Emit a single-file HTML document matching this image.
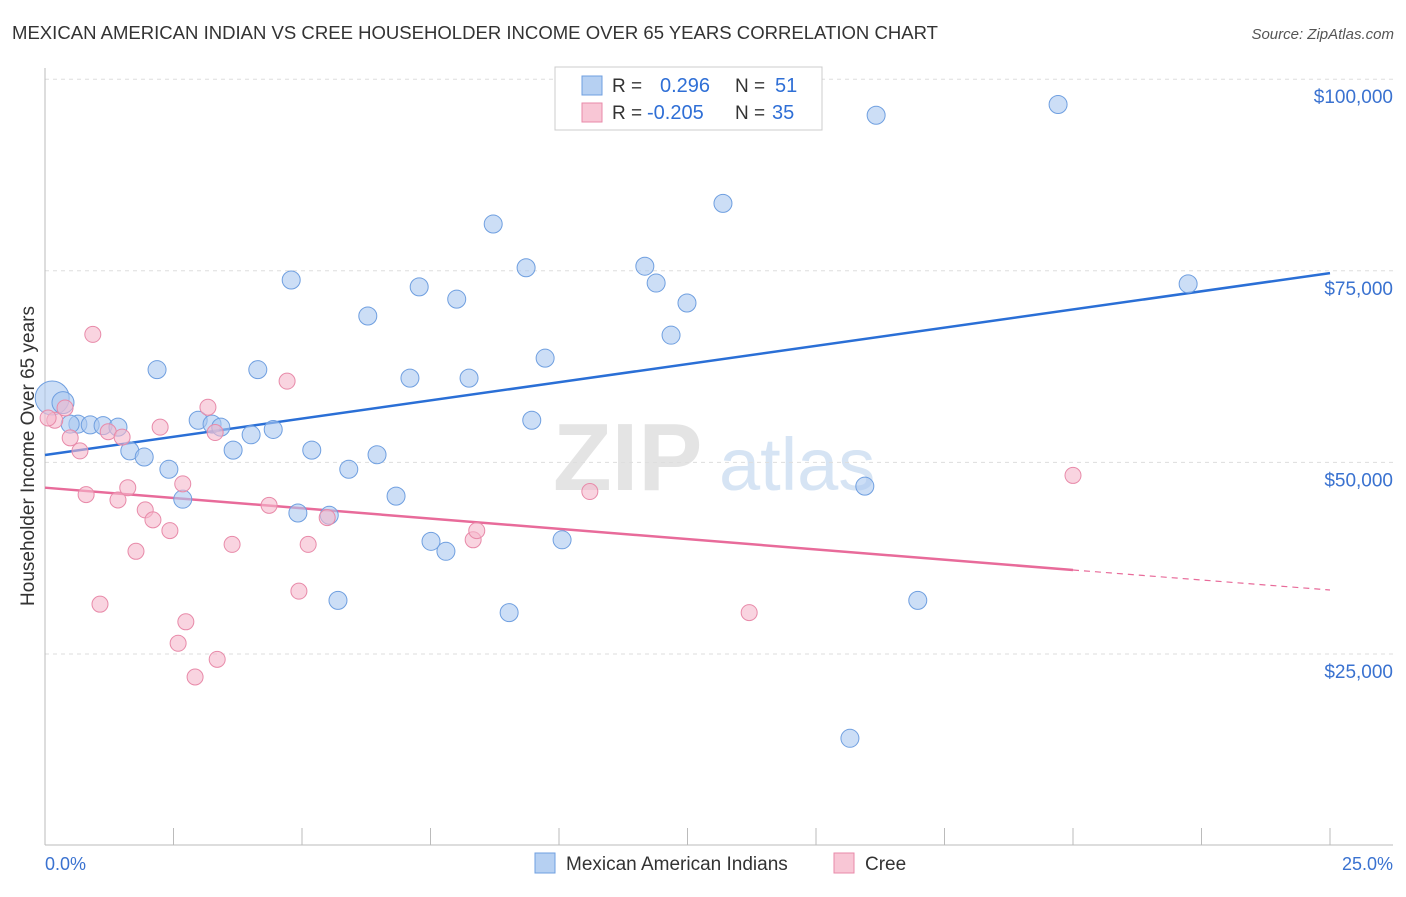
<!DOCTYPE html>
<html><head><meta charset="utf-8"><style>
body{margin:0;background:#fff;font-family:"Liberation Sans",sans-serif;}
svg text{font-family:"Liberation Sans",sans-serif;}
</style></head><body>
<svg id="chart" width="1406" height="892" xmlns="http://www.w3.org/2000/svg">
<text x="12" y="39" font-size="18" fill="#333" textLength="926" lengthAdjust="spacingAndGlyphs">MEXICAN AMERICAN INDIAN VS CREE HOUSEHOLDER INCOME OVER 65 YEARS CORRELATION CHART</text>
<text x="1394" y="39" font-size="15" fill="#555" font-style="italic" text-anchor="end">Source: ZipAtlas.com</text>
<g>
<text x="553" y="490" font-size="96" fill="#e4e4e4" font-family="Liberation Serif" font-weight="bold">ZIP</text>
<text x="719" y="490" font-size="74" fill="#d6e4f4">atlas</text>
</g>
<g id="grid"></g>
<g id="axes"></g>
<g id="lines"></g>
<g id="points"></g>
<text transform="translate(34,456) rotate(-90)" font-size="19" fill="#333" text-anchor="middle">Householder Income Over 65 years</text>
<text x="45" y="870" font-size="18" fill="#3a72d0">0.0%</text>
<text x="1393" y="870" font-size="18" fill="#3a72d0" text-anchor="end">25.0%</text>
<g>
<rect x="555" y="67" width="267" height="63" fill="#fff" stroke="#ccc"/>
<rect x="582" y="76" width="20" height="19" fill="#b6d0f2" stroke="#6f9fe0"/>
<text x="612" y="92" font-size="19" fill="#333">R = </text><text x="660" y="92" font-size="20" fill="#2f6fd6">0.296</text>
<text x="735" y="92" font-size="19" fill="#333">N = </text><text x="775" y="92" font-size="20" fill="#2f6fd6">51</text>
<rect x="582" y="103" width="20" height="19" fill="#f8c6d5" stroke="#e88aa9"/>
<text x="612" y="119" font-size="19" fill="#333">R = </text><text x="647" y="119" font-size="20" fill="#2f6fd6">-0.205</text>
<text x="735" y="119" font-size="19" fill="#333">N = </text><text x="772" y="119" font-size="20" fill="#2f6fd6">35</text>
</g>
<g>
<rect x="535" y="853" width="20" height="20" fill="#b6d0f2" stroke="#6f9fe0"/>
<text x="566" y="870" font-size="19" fill="#333">Mexican American Indians</text>
<rect x="834" y="853" width="20" height="20" fill="#f8c6d5" stroke="#e88aa9"/>
<text x="865" y="870" font-size="19" fill="#333">Cree</text>
</g>
</svg>
<script>
const blueX=[0.14,0.35,0.64,0.88,1.13,1.42,1.65,1.93,2.18,2.41,2.68,2.98,3.25,3.42,3.66,4.01,4.14,4.44,4.79,4.92,5.19,5.53,5.70,5.91,6.28,6.46,6.83,7.10,7.28,7.51,7.80,8.01,8.25,8.72,9.03,9.36,9.47,9.73,10.06,11.67,11.89,12.18,12.49,13.19,15.66,15.95,16.17,16.98,19.71,22.24,0.49];
const blueY=[58400,57800,55000,54900,54800,54600,51500,50700,62100,49100,45200,55500,55000,54600,51600,53600,62100,54300,73800,43400,51600,43100,32000,49100,69100,51000,45600,61000,72900,39700,38400,71300,61000,81100,30400,75400,55500,63600,39900,75600,73400,66600,70800,83800,14000,46900,95300,32000,96700,73300,55000];
const blueSize=[17,11,9,9,9,9,9,9,9,9,9,9,9,9,9,9,9,9,9,9,9,9,9,9,9,9,9,9,9,9,9,9,9,9,9,9,9,9,9,9,9,9,9,9,9,9,9,9,9,9,9];
const pinkX=[0.19,0.39,0.49,0.68,0.80,0.93,1.07,1.23,1.42,1.50,1.61,1.77,1.95,2.10,2.24,2.43,2.68,2.74,2.59,2.92,3.17,3.31,3.35,3.64,4.36,4.71,4.94,5.12,5.49,8.33,8.40,10.60,13.70,20.00,0.06];
const pinkY=[55500,57100,53200,51500,45800,66700,31500,54000,45100,53300,46700,38400,43800,42500,54600,41100,47200,29200,26400,22000,57200,53900,24300,39300,44400,60600,33200,39300,42800,39900,41100,46200,30400,48300,55800];
const blueTrend=[50970,74700];
const pinkTrend=[46700,35960,33350];
const pinkTrendX=[0,20,25];
const yTicks=[25000,50000,75000,100000];
const yTickLabels=["$25,000","$50,000","$75,000","$100,000"];
const xTicks=[0,2.5,5,7.5,10,12.5,15,17.5,20,22.5,25];

const NS="http://www.w3.org/2000/svg";
const X=v=>45+v/25*1285;
const Y=v=>845.6-v/25000*191.6;
function mk(tag,attrs,parent){const e=document.createElementNS(NS,tag);for(const k in attrs)e.setAttribute(k,attrs[k]);document.getElementById(parent).appendChild(e);return e;}

yTicks.forEach((t,i)=>{
  const g=mk('line',{x1:45,x2:1393,y1:Y(t),y2:Y(t),stroke:'#ddd','stroke-dasharray':'4,4'},'grid');
  
  
  const l=mk('text',{x:1393,y:Y(t)+24,'font-size':19,fill:'#3a72d0','text-anchor':'end'},'grid');
  l.textContent=yTickLabels[i];
  
  
});
const ax=mk('line',{x1:45,x2:1393,y1:845,y2:845,stroke:'#bbb'},'axes');


const ay=mk('line',{x1:45,x2:45,y1:68,y2:845,stroke:'#bbb'},'axes');


xTicks.forEach(t=>{
  const k=mk('line',{x1:X(t),x2:X(t),y1:828,y2:845,stroke:'#bbb'},'axes');
  
  
});

const bl=mk('line',{x1:X(0),y1:Y(blueTrend[0]),x2:X(25),y2:Y(blueTrend[1]),stroke:'#2a6fd6','stroke-width':2.5},'lines');


const pl=mk('line',{x1:X(pinkTrendX[0]),y1:Y(pinkTrend[0]),x2:X(pinkTrendX[1]),y2:Y(pinkTrend[1]),stroke:'#e86b9a','stroke-width':2.5},'lines');


const pd=mk('line',{x1:X(pinkTrendX[1]),y1:Y(pinkTrend[1]),x2:X(pinkTrendX[2]),y2:Y(pinkTrend[2]),stroke:'#e86b9a','stroke-width':1.2,'stroke-dasharray':'6,5'},'lines');



blueX.forEach((x,i)=>{
  const c=mk('circle',{cx:X(x),cy:Y(blueY[i]),r:blueSize[i],fill:'rgba(170,200,240,0.6)',stroke:'#6f9fe0','stroke-width':1},'points');
  
  
});
pinkX.forEach((x,i)=>{
  const c=mk('circle',{cx:X(x),cy:Y(pinkY[i]),r:8,fill:'rgba(245,184,203,0.6)',stroke:'#e88aa9','stroke-width':1},'points');
  
  
});
</script>
</body></html>
